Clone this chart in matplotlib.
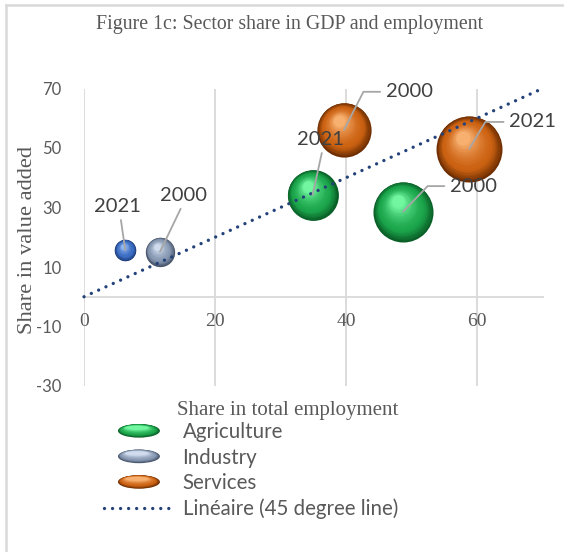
import numpy as np
import matplotlib
matplotlib.use("Agg")
import matplotlib.pyplot as plt
import matplotlib.transforms as mtransforms
from matplotlib.colors import to_rgb
from matplotlib.lines import Line2D
from matplotlib.patches import Ellipse
from matplotlib.legend_handler import HandlerBase

plt.rcParams["axes.unicode_minus"] = False

# Share in total employment (x) and share in value added (y), years 2000 / 2021
YEARS = ["2000", "2021"]
agri_emp = [48.7, 34.9]
agri_va = [28.6, 34.2]
ind_emp = [11.6, 6.3]
ind_va = [15.1, 15.7]
serv_emp = [39.7, 58.8]
serv_va = [56.1, 49.7]
line_x = [0, 70]
line_y = [0, 70]

X_TICKS = [0, 20, 40, 60]
Y_TICKS = [-30, -10, 10, 30, 50, 70]

SANS = "Lato"
SERIF = "Liberation Serif"
GREY_TXT = "#595959"
LABEL_TXT = "#404040"
GRID = "#d9d9d9"
LEADER = "#a6a6a6"
LINE_C = "#24427a"

# (rim, body, highlight)
GREEN = ("#0a5f27", "#1ca64c", "#72f7a0")
STEEL = ("#46536a", "#8798b2", "#d0dcee")
BLUE = ("#1d3c78", "#3b6cc2", "#8fb6f0")
ORANGE = ("#6e2e02", "#cc6212", "#f8b070")


def mix(c1, c2, t):
    a, b = np.array(to_rgb(c1)), np.array(to_rgb(c2))
    return tuple(a + (b - a) * t)


def shade(colors, t):
    rim, body, hi = colors
    if t < 0.3:
        return mix(rim, body, t / 0.3)
    return mix(body, hi, ((t - 0.3) / 0.7) ** 1.6)


fig = plt.figure(figsize=(5.64, 5.52), dpi=100)
ax = fig.add_axes([84 / 564, 1 - 386 / 552, 458.5 / 564, 297.5 / 552])
ax.set_xlim(0, 70)
ax.set_ylim(-30, 70)

MAX_EMP = max(agri_emp + ind_emp + serv_emp)


def bubble(x, y, colors, zorder=3):
    diam = 47.5 * np.sqrt(x / MAX_EMP)
    r = diam / 2
    steps = 26
    for i in range(steps):
        t = i / (steps - 1)
        size = diam * (1 - 0.8 * t)
        dx, dy = -0.18 * r * t, 0.34 * r * t
        tr = ax.transData + mtransforms.ScaledTranslation(dx / 72, dy / 72, fig.dpi_scale_trans)
        ax.plot([x], [y], marker="o", ms=size, mew=0, color=shade(colors, t),
                transform=tr, clip_on=False, zorder=zorder)


for k in range(2):
    bubble(agri_emp[k], agri_va[k], GREEN)
    bubble(serv_emp[k], serv_va[k], ORANGE)
bubble(ind_emp[0], ind_va[0], STEEL)
bubble(ind_emp[1], ind_va[1], BLUE)

# 45 degree line
ax.plot(line_x, line_y, color=LINE_C, lw=2.4, linestyle=(0, (0.01, 2.4)),
        dash_capstyle="round", zorder=5, clip_on=False)

# data labels with leader lines
def label(x, y, text, off, ha, relpos, angle=None):
    style = "arc3" if angle is None else f"angle,angleA=180,angleB={angle},rad=0"
    ax.annotate(text, xy=(x, y), xytext=off, textcoords="offset points",
                ha=ha, va="center", fontsize=14.5, family=SANS, color=LABEL_TXT,
                zorder=7,
                arrowprops=dict(arrowstyle="-", color=LEADER, lw=1.3,
                                shrinkA=4, shrinkB=0, patchA=None,
                                relpos=relpos, connectionstyle=style))


label(ind_emp[1], ind_va[1], YEARS[1], (-5.4, 31.7), "center", (0.55, 0))
label(ind_emp[0], ind_va[0], YEARS[0], (16.6, 40.7), "center", (0.5, 0))
label(agri_emp[1], agri_va[1], YEARS[1], (5.8, 40.3), "center", (0.55, 0))
label(serv_emp[0], serv_va[0], YEARS[0], (30, 27.4), "left", (0, 0.5), 243)
label(serv_emp[1], serv_va[1], YEARS[1], (28.8, 19.4), "left", (0, 0.5), 239)
label(agri_emp[0], agri_va[0], YEARS[0], (33.8, 18.4), "left", (0, 0.5), 226)

# axes styling
for side in ["top", "right", "left"]:
    ax.spines[side].set_visible(False)
ax.spines["bottom"].set_position(("data", 0))
ax.spines["bottom"].set_color(GRID)
ax.spines["bottom"].set_linewidth(1.3)
ax.set_xticks(X_TICKS)
ax.set_yticks(Y_TICKS)
ax.grid(axis="x", color=GRID, lw=1.3)
ax.set_axisbelow(True)
ax.tick_params(axis="x", length=0, pad=12, labelsize=14, labelcolor=GREY_TXT)
ax.tick_params(axis="y", length=0, pad=16, labelsize=12, labelcolor=GREY_TXT)
for t in ax.get_xticklabels():
    t.set_family(SERIF)
for t in ax.get_yticklabels():
    t.set_family(SANS)

fig.text(290 / 564, 1 - 25 / 552, "Figure 1c: Sector share in GDP and employment",
         ha="center", va="center", family=SERIF, fontsize=14.3, color=GREY_TXT)
fig.text(28 / 564, 1 - 240 / 552, "Share in value added", rotation=90,
         ha="center", va="center", family=SERIF, fontsize=16.2, color=GREY_TXT)
fig.text(288 / 564, 1 - 410 / 552, "Share in total employment",
         ha="center", va="center", family=SERIF, fontsize=15, color=GREY_TXT)


# legend with flattened sphere keys
class Sphere:
    def __init__(self, colors):
        self.colors = colors


class SphereHandler(HandlerBase):
    def create_artists(self, legend, orig_handle, xdescent, ydescent,
                       width, height, fontsize, trans):
        cx = width / 2 - xdescent
        cy = height / 2 - ydescent
        w, h = width * 0.6, height * 0.95
        out = []
        steps = 12
        for i in range(steps):
            t = i / (steps - 1)
            e = Ellipse((cx - 0.05 * w * t, cy + 0.22 * h * t), w * (1 - 0.45 * t),
                        h * (1 - 0.7 * t), facecolor=shade(orig_handle.colors, t),
                        edgecolor="none", transform=trans)
            out.append(e)
        return out


handles = [Sphere(GREEN), Sphere(STEEL), Sphere(ORANGE),
           Line2D([], [], color=LINE_C, lw=2.4, linestyle=(0, (0.01, 2.4)),
                  dash_capstyle="round")]
labels = ["Agriculture", "Industry", "Services", "Linéaire (45 degree line)"]
fig.legend(handles, labels, handler_map={Sphere: SphereHandler()},
           loc="upper left", bbox_to_anchor=(104 / 564, 1 - 422 / 552),
           frameon=False, borderpad=0, borderaxespad=0, handlelength=3.4,
           handletextpad=0.42, labelspacing=0.27,
           prop={"family": SANS, "size": 14.8}, labelcolor=GREY_TXT)

# chart frame edges
fig.add_artist(Line2D([6 / 564, 6 / 564], [0, 1 - 5 / 552], transform=fig.transFigure,
                      color=GRID, lw=1.8))
fig.add_artist(Line2D([6 / 564, 1], [1 - 5 / 552, 1 - 5 / 552], transform=fig.transFigure,
                      color=GRID, lw=1.8))

fig.savefig("out.png", dpi=100)
